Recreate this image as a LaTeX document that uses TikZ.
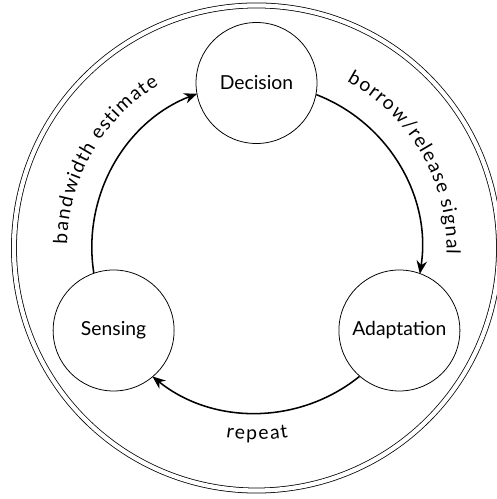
\documentclass[tikz,border=0pt]{standalone}
\usepackage{fontspec}
\setmainfont{Lato}
\usetikzlibrary{arrows.meta,decorations.text}

\begin{document}
\begin{tikzpicture}[
  stage/.style={draw,circle,minimum size=2.2cm,inner sep=0pt},
  flow/.style={thick,-{Stealth[length=2.4mm,width=1.9mm]}},
  along/.style={decorate,decoration={text along path,text align=center,raise=#1}}]
\useasboundingbox (-4.664,-4.564) rectangle (4.355,4.509);
% outer ring
\draw[double,double distance=2.2pt] (0,0) circle (4.41cm);
% the three stages sit on a circle of radius 3cm
\node[stage] (dec) at (90:3) {Decision};
\node[stage] (adapt) at (-30:3) {Adaptation};
\node[stage] (sense) at (210:3) {Sensing};
% arcs between the stages, with their labels on the outside
\draw[flow,postaction={along=0.45cm,decoration={text={bandwidth estimate}}}]
  (sense.109.44) arc[start angle=188.87,end angle=111.13,radius=3cm];
\draw[flow,postaction={along=0.45cm,decoration={text={borrow/release signal}}}]
  (dec.349.44) arc[start angle=68.87,end angle=-8.87,radius=3cm];
\draw[flow] (adapt.229.44) arc[start angle=308.87,end angle=231.13,radius=3cm];
\path[along=-0.49cm,decoration={text={repeat}}]
  (sense.-49.44) arc[start angle=231.13,end angle=308.87,radius=3cm];
\end{tikzpicture}
\end{document}
